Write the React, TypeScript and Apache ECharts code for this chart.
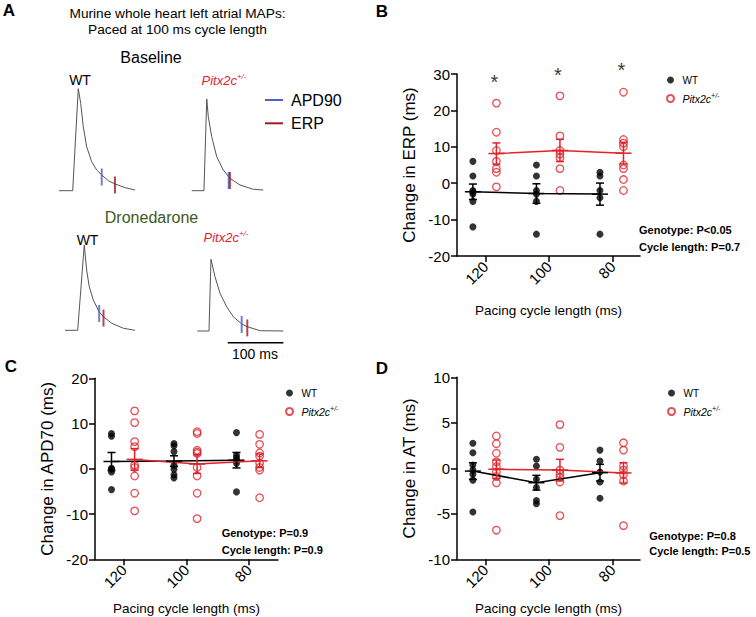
import React, { useEffect, useRef } from "react";
import * as echarts from "echarts";

const FONT = "'Liberation Sans', Arial, Helvetica, sans-serif";
const RED = "#e0232b";
const BLUE = "#4a62c4";
const DARKRED = "#a3181e";
const PITX = "Pitx2c+/-";

// categories (pacing cycle length, ms) and their x positions
const CATS = ["120", "100", "80"];
const XPOS = [1, 2, 3];
const WT_OFF = -0.2;
const PITX_OFF = 0.17;

// Panel B: change in ERP (ms)
const erpWT = [
  [6, 2, -2, -2.5, -3, -5, -12],
  [5, 2, -2, -3, -5, -14],
  [3, 2, -2, -4, -14],
];
const erpPitx = [
  [22, 14, 9, 6, 4, 3, -1],
  [24, 13, 9, 8, 7, 4, -2],
  [25, 12, 11, 10, 5, 4, 1, -2],
];
const erpStars = [29.1, 31.2, 32.5];

// Panel C: change in APD70 (ms)
const apdWT = [
  [7.8, 7.2, 0.1, -0.1, -0.7, -4.6],
  [5.6, 5.1, 3.8, 0.8, -0.1, -1.3, -2],
  [8, 3, 2.4, 1.9, 1.2, -5.1],
];
const apdPitx = [
  [12.8, 10.2, 6, 4.9, 0.8, 0.3, -1.6, -5.4, -9.3],
  [8.2, 7.8, 4.1, 3.7, 3.4, 0.3, -1.6, -5.4, -11],
  [7.6, 5.4, 3.5, 2.8, 1.2, 0.3, -0.3, -6.4],
];

// Panel D: change in AT (ms)
const atWT = [
  [2.75, 1.7, 0.37, -0.2, -0.66, -1.3, -4.8],
  [1, 0.25, -1.2, -2.1, -3.55, -3.9],
  [2, 0.8, -0.4, -1.5, -3.3],
];
const atPitx = [
  [3.55, 2.7, 1.65, 0.7, 0.2, -0.4, -0.9, -1.6, -6.8],
  [4.8, 2.3, -0.2, -0.6, -1, -1.5, -5.2],
  [2.8, 2, 0.25, -0.2, -0.7, -1.4, -6.3],
];

// Panel A: MAP traces [time ms, normalised amplitude]
const traceBaseWT = [[0, 0], [24.6, 0], [34.6, 1.0], [39, 0.857], [43.6, 0.627], [49.7, 0.431], [58.7, 0.284], [67.7, 0.203], [76.7, 0.154], [88.6, 0.098], [100.5, 0.066], [118.5, 0.03], [136.4, 0.007]];
const traceBasePitx = [[0, 0], [22, 0], [27, 0.9], [29.8, 0.725], [35.9, 0.53], [44.9, 0.333], [56.7, 0.203], [68.8, 0.121], [86.7, 0.056], [110.6, 0.014], [128.5, 0.007]];
const traceDronWT = [[0, 0], [22.8, 0], [34.6, 0.836], [38.9, 0.591], [43.6, 0.427], [50.9, 0.297], [61.1, 0.182], [68.8, 0.133], [83.9, 0.069], [104.7, 0.02], [125.7, 0]];
const traceDronPitx = [[0, 0], [21, 0], [24.6, 0.703], [31.8, 0.532], [40.8, 0.37], [52.8, 0.238], [64.6, 0.14], [79.7, 0.069], [89.8, 0.042], [112.6, 0.003], [154.4, 0]];
// APD90 and ERP markers [time ms, amplitude]
const apd90Marks = [[76.7, 0.134], [66.4, 0.1], [61.4, 0.165], [79.7, 0.064]];
const erpMarks = [[100.5, 0.056], [68.6, 0.1], [69.1, 0.12], [89.8, 0.03]];
const scaleBar = [[54.6, -0.115], [154.6, -0.115]];

const mean = (a: number[]) => a.reduce((s, v) => s + v, 0) / a.length;
const sem = (a: number[]) => {
  const m = mean(a);
  const v = a.reduce((s, x) => s + (x - m) * (x - m), 0) / (a.length - 1);
  return Math.sqrt(v / a.length);
};

function errRender(params: any, api: any) {
  const x = api.value(0), m = api.value(1), s = api.value(2);
  const c = api.coord([x, m]);
  const t = api.coord([x, m + s]);
  const b = api.coord([x, m - s]);
  const color = api.visual("color");
  const style = { stroke: color, lineWidth: 1.5 };
  return {
    type: "group",
    children: [
      { type: "line", shape: { x1: c[0] - 8, y1: c[1], x2: c[0] + 8, y2: c[1] }, style },
      { type: "line", shape: { x1: t[0], y1: t[1], x2: b[0], y2: b[1] }, style },
      { type: "line", shape: { x1: t[0] - 4, y1: t[1], x2: t[0] + 4, y2: t[1] }, style },
      { type: "line", shape: { x1: b[0] - 4, y1: b[1], x2: b[0] + 4, y2: b[1] }, style },
    ],
  };
}

function panelSeries(g: number, wt: number[][], px: number[][]) {
  const out: any[] = [];
  const groups = [
    { name: "WT", data: wt, off: WT_OFF, color: "#000", filled: true },
    { name: PITX, data: px, off: PITX_OFF, color: RED, filled: false },
  ];
  groups.forEach((gr) => {
    const pts: number[][] = [];
    gr.data.forEach((arr, i) => arr.forEach((v) => pts.push([XPOS[i] + gr.off, v])));
    out.push({
      type: "scatter",
      name: gr.name,
      xAxisIndex: g,
      yAxisIndex: g,
      data: pts,
      symbol: "circle",
      symbolSize: gr.filled ? 7 : 7.5,
      itemStyle: gr.filled
        ? { color: "#000" }
        : { color: "rgba(255,255,255,0)", borderColor: RED, borderWidth: 1.3 },
      z: 2,
    });
    out.push({
      type: "line",
      name: gr.name + " mean",
      xAxisIndex: g,
      yAxisIndex: g,
      data: gr.data.map((arr, i) => [XPOS[i] + gr.off, mean(arr)]),
      symbol: "none",
      lineStyle: { color: gr.color, width: 1.5 },
      z: 3,
    });
    out.push({
      type: "custom",
      name: gr.name + " sem",
      xAxisIndex: g,
      yAxisIndex: g,
      renderItem: errRender,
      data: gr.data.map((arr, i) => [XPOS[i] + gr.off, mean(arr), sem(arr)]),
      itemStyle: { color: gr.color },
      z: 4,
    });
  });
  return out;
}

function mainX(min: number, max: number, gap: number) {
  return {
    type: "value",
    min,
    max,
    axisLine: { show: true, onZero: false, lineStyle: { color: "#000", width: 1.5 } },
    axisTick: { show: true, customValues: XPOS, length: 6, lineStyle: { color: "#000", width: 1.5 } },
    axisLabel: {
      customValues: XPOS,
      formatter: (v: number) => CATS[Math.round(v) - 1],
      rotate: 45,
      fontSize: 15,
      color: "#000",
      margin: 8,
    },
    splitLine: { show: false },
    name: "Pacing cycle length (ms)",
    nameLocation: "middle",
    nameGap: gap,
    nameTextStyle: { fontSize: 13.5, color: "#000" },
  };
}

function mainY(min: number, max: number, interval: number, name: string) {
  return {
    type: "value",
    min,
    max,
    interval,
    axisLine: { show: true, onZero: false, lineStyle: { color: "#000", width: 1.5 } },
    axisTick: { show: true, length: 6, lineStyle: { color: "#000", width: 1.5 } },
    axisLabel: { fontSize: 15, color: "#000", margin: 7 },
    splitLine: { show: false },
    name,
    nameLocation: "middle",
    nameGap: 39,
    nameTextStyle: { fontSize: 17, color: "#000" },
  };
}

const hiddenX = { type: "value", min: 0, max: 160, show: false };
const hiddenY = { type: "value", min: -0.15, max: 1, show: false };

function legendAt(left: number, top: number) {
  return {
    orient: "vertical",
    left,
    top,
    selectedMode: false,
    itemWidth: 14,
    itemHeight: 7,
    itemGap: 5.5,
    data: ["WT", PITX],
    formatter: (n: string) => (n === PITX ? "{i|Pitx2c}{s|+/-}" : n),
    textStyle: {
      fontSize: 10,
      color: "#000",
      lineHeight: 13,
      rich: {
        i: { fontStyle: "italic", fontSize: 10.5, color: "#000" },
        s: { fontStyle: "italic", fontSize: 7, color: "#000", verticalAlign: "top", lineHeight: 13 },
      },
    },
  };
}

function txt(text: string, x: number, y: number, extra: any = {}) {
  return {
    type: "text",
    x,
    y,
    style: {
      text,
      fontSize: 12,
      fontFamily: FONT,
      fill: "#000",
      align: "center",
      verticalAlign: "middle",
      ...extra,
    },
  };
}

function pitxLabel(x: number, y: number) {
  return {
    type: "text",
    x,
    y,
    style: {
      text: "{i|Pitx2c}{s|+/-}",
      align: "center",
      verticalAlign: "middle",
      rich: {
        i: { fontStyle: "italic", fontSize: 13, fill: RED, fontFamily: FONT },
        s: { fontStyle: "italic", fontSize: 8, fill: RED, fontFamily: FONT, verticalAlign: "top", lineHeight: 16 },
      },
    },
  };
}

export default function App() {
  const ref = useRef<HTMLDivElement>(null);
  useEffect(() => {
    if (!ref.current) return;
    const chart = echarts.init(ref.current, undefined, { renderer: "svg" });
    const traces = [traceBaseWT, traceBasePitx, traceDronWT, traceDronPitx];
    const series: any[] = [
      ...panelSeries(0, erpWT, erpPitx),
      ...panelSeries(1, apdWT, apdPitx),
      ...panelSeries(2, atWT, atPitx),
      {
        type: "scatter",
        name: "sig",
        xAxisIndex: 0,
        yAxisIndex: 0,
        clip: false,
        data: erpStars.map((v, i) => [XPOS[i] + PITX_OFF, v]),
        symbolSize: 1,
        itemStyle: { color: "rgba(0,0,0,0)" },
        label: { show: true, formatter: "*", position: "inside", offset: [-2, 5], fontSize: 20, color: "#000" },
      },
    ];
    traces.forEach((tr, k) => {
      const g = 3 + k;
      series.push({
        type: "line",
        name: "trace" + k,
        xAxisIndex: g,
        yAxisIndex: g,
        data: tr,
        symbol: "none",
        clip: false,
        lineStyle: { color: "#555", width: 1 },
      });
      series.push({
        type: "scatter",
        name: "apd90-" + k,
        xAxisIndex: g,
        yAxisIndex: g,
        data: [apd90Marks[k]],
        symbol: "rect",
        symbolSize: [2, 17],
        itemStyle: { color: BLUE },
        z: 3,
      });
      series.push({
        type: "scatter",
        name: "erp-" + k,
        xAxisIndex: g,
        yAxisIndex: g,
        data: [erpMarks[k]],
        symbol: "rect",
        symbolSize: [2, 17],
        itemStyle: { color: DARKRED },
        z: 4,
      });
    });
    series.push({
      type: "line",
      name: "scalebar",
      xAxisIndex: 6,
      yAxisIndex: 6,
      data: scaleBar,
      symbol: "none",
      clip: false,
      lineStyle: { color: "#000", width: 1.5 },
    });

    const TW = 89.1, TH = 117.3;
    const option: any = {
      animation: false,
      textStyle: { fontFamily: FONT },
      grid: [
        { left: 457, top: 74, width: 183, height: 182 },
        { left: 95, top: 378.3, width: 183, height: 181 },
        { left: 457, top: 377.3, width: 183, height: 182 },
        { left: 59, top: 88.7, width: TW, height: TH },
        { left: 191.7, top: 88.7, width: TW, height: TH },
        { left: 65, top: 228.3, width: TW, height: TH },
        { left: 197.3, top: 229, width: TW, height: TH },
      ],
      xAxis: [mainX(0.55, 3.43, 47), mainX(0.536, 3.464, 42), mainX(0.55, 3.43, 42), ...[0, 1, 2, 3].map(() => ({ ...hiddenX }))].map((a: any, i) => ({ gridIndex: i, ...a })),
      yAxis: [
        mainY(-20, 30, 10, "Change in ERP (ms)"),
        mainY(-20, 20, 10, "Change in APD70 (ms)"),
        mainY(-10, 10, 5, "Change in AT (ms)"),
        ...[0, 1, 2, 3].map(() => ({ ...hiddenY })),
      ].map((a: any, i) => ({ gridIndex: i, ...a })),
      legend: [legendAt(661, 68.5), legendAt(280, 381.5), legendAt(662, 381.5)],
      graphic: [
        txt("A", 9, 10, { fontSize: 17, fontWeight: "bold" }),
        txt("B", 382, 11, { fontSize: 17, fontWeight: "bold" }),
        txt("C", 11, 366, { fontSize: 17, fontWeight: "bold" }),
        txt("D", 382, 368, { fontSize: 17, fontWeight: "bold" }),
        txt("Murine whole heart left atrial MAPs:", 177.5, 13, { fontSize: 13.7 }),
        txt("Paced at 100 ms cycle length", 177.5, 29, { fontSize: 13.7 }),
        txt("Baseline", 151, 57.5, { fontSize: 16 }),
        txt("WT", 80, 80, { fontSize: 14 }),
        pitxLabel(224, 80),
        txt("Dronedarone", 151.5, 217, { fontSize: 16, fill: "#3c5a1c" }),
        txt("WT", 87.5, 240, { fontSize: 14 }),
        pitxLabel(226, 237),
        { type: "line", shape: { x1: 265, y1: 100, x2: 283, y2: 100 }, style: { stroke: BLUE, lineWidth: 2 } },
        { type: "line", shape: { x1: 265, y1: 123.3, x2: 283, y2: 123.3 }, style: { stroke: DARKRED, lineWidth: 2 } },
        txt("APD90", 291, 100.5, { fontSize: 16, align: "left" }),
        txt("ERP", 291, 123.5, { fontSize: 16, align: "left" }),
        txt("100 ms", 255, 353.5, { fontSize: 14 }),
        txt("Genotype: P<0.05", 639, 230, { fontSize: 11, fontWeight: "bold", align: "left" }),
        txt("Cycle length: P=0.7", 639, 247, { fontSize: 11, fontWeight: "bold", align: "left" }),
        txt("Genotype: P=0.9", 221.7, 533, { fontSize: 11, fontWeight: "bold", align: "left" }),
        txt("Cycle length: P=0.9", 221.7, 549.5, { fontSize: 11, fontWeight: "bold", align: "left" }),
        txt("Genotype: P=0.8", 649.3, 536, { fontSize: 11, fontWeight: "bold", align: "left" }),
        txt("Cycle length: P=0.5", 649.3, 551, { fontSize: 11, fontWeight: "bold", align: "left" }),
      ],
      series,
    };
    chart.setOption(option);
    return () => chart.dispose();
  }, []);
  return (
    <div
      ref={ref}
      style={{ position: "fixed", left: 0, top: 0, width: 756, height: 617, background: "#fff" }}
    />
  );
}
